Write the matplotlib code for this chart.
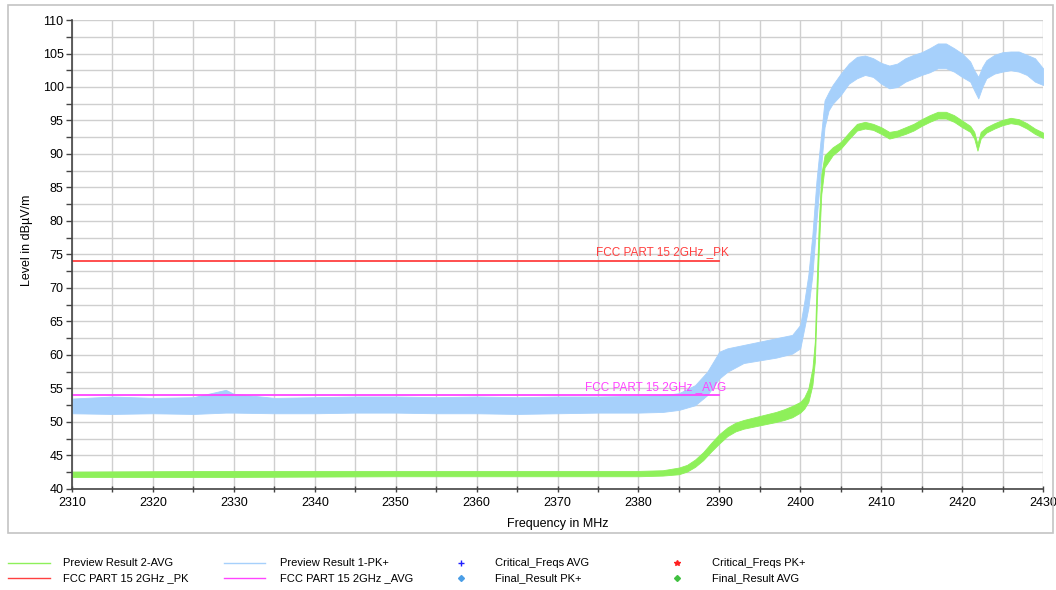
import matplotlib.pyplot as plt
from matplotlib.lines import Line2D
from matplotlib.patches import Rectangle

plt.rcParams['font.family'] = ['Liberation Sans', 'DejaVu Sans']

# Preview Result 1-PK+ (blue), envelope: freq, low, high
pk_freq = [2310, 2315, 2320, 2325, 2329, 2330, 2335, 2340, 2345, 2350, 2355, 2360,
           2365, 2370, 2375, 2380, 2383, 2385, 2387, 2388.5, 2390, 2391, 2393, 2395,
           2397, 2399, 2400, 2400.5, 2401, 2401.5, 2402, 2402.5, 2403, 2403.5, 2404,
           2405, 2406, 2407, 2408, 2409, 2410, 2411, 2412, 2413, 2414, 2415, 2416,
           2417, 2418, 2419, 2420, 2421, 2421.5, 2422, 2422.5, 2423, 2424, 2425,
           2426, 2427, 2428, 2429, 2430]
pk_lo = [51.3, 51.2, 51.3, 51.2, 51.4, 51.4, 51.3, 51.3, 51.4, 51.4, 51.3, 51.3,
         51.2, 51.3, 51.4, 51.4, 51.5, 51.8, 52.5, 54.0, 56.5, 57.5, 58.8, 59.2,
         59.6, 60.2, 61.0, 64.0, 67.0, 72.0, 80.0, 87.0, 94.0, 96.5, 97.5,
         98.8, 100.5, 101.3, 101.8, 101.5, 100.5, 99.8, 100.0, 100.8, 101.3, 101.8, 102.2,
         102.8, 102.8, 102.3, 101.5, 100.8, 99.5, 98.3, 100.0, 101.3, 102.0, 102.3,
         102.5, 102.3, 101.8, 100.8, 100.3]
pk_hi = [53.5, 53.8, 53.6, 53.7, 54.8, 54.2, 53.6, 53.7, 53.8, 53.8, 53.7, 53.8,
         53.7, 53.8, 53.8, 53.9, 54.0, 54.3, 55.5, 57.5, 60.5, 61.0, 61.5, 62.0,
         62.5, 63.0, 64.5, 68.0, 72.0, 78.0, 86.0, 92.0, 98.0, 99.2, 100.3,
         102.0, 103.5, 104.5, 104.7, 104.3, 103.6, 103.2, 103.5, 104.3, 104.8, 105.2, 105.8,
         106.5, 106.5, 105.8, 105.0, 103.8, 102.5, 101.5, 103.0, 104.0, 104.8, 105.2,
         105.3, 105.3, 104.8, 104.3, 102.8]

# Preview Result 2-AVG (green)
av_freq = [2310, 2330, 2350, 2370, 2380, 2383, 2385, 2386, 2387, 2388, 2389, 2390,
           2391, 2392, 2393, 2395, 2397, 2398, 2399, 2400, 2400.5, 2401, 2401.5,
           2401.8, 2402, 2402.3, 2402.6, 2403, 2404, 2405, 2406, 2407, 2408, 2409,
           2410, 2411, 2412, 2413, 2414, 2415, 2416, 2417, 2418, 2419, 2420, 2421,
           2421.5, 2421.9, 2422.3, 2423, 2424, 2425, 2426, 2427, 2428, 2429, 2430]
av_lo = [41.8, 41.8, 41.9, 41.9, 41.9, 42.0, 42.2, 42.6, 43.3, 44.3, 45.6, 46.8,
         47.9, 48.6, 49.0, 49.5, 50.0, 50.3, 50.7, 51.4, 52.0, 53.0, 55.5,
         59.0, 66.0, 76.0, 84.0, 88.0, 89.8, 90.8, 92.2, 93.5, 93.8, 93.6,
         93.0, 92.3, 92.6, 93.0, 93.5, 94.2, 94.8, 95.3, 95.3, 94.8, 94.0, 93.3,
         92.3, 90.5, 92.3, 93.2, 93.8, 94.3, 94.6, 94.4, 93.8, 93.0, 92.4]
av_hi = [42.6, 42.7, 42.7, 42.7, 42.7, 42.8, 43.2, 43.6, 44.4, 45.5, 46.9, 48.2,
         49.2, 49.9, 50.3, 50.9, 51.5, 51.9, 52.4, 53.0, 53.7, 55.0, 58.0,
         62.0, 70.0, 80.0, 87.0, 89.8, 91.0, 91.8, 93.2, 94.5, 94.8, 94.5,
         94.0, 93.3, 93.5, 94.0, 94.5, 95.2, 95.8, 96.3, 96.3, 95.8, 95.0, 94.2,
         93.3, 91.5, 93.3, 94.0, 94.6, 95.1, 95.4, 95.2, 94.6, 93.8, 93.2]

# limit lines
lim_freq = [2310, 2390]
lim_pk = [74, 74]
lim_av = [54, 54]

blue = '#a6d0fb'
green = '#8ef05a'
red = '#ff4040'
magenta = '#ff44ff'

fig = plt.figure(figsize=(10.56, 5.9), dpi=100)
ax = fig.add_axes([0.0682, 0.1712, 0.9195, 0.7949])

# frame around chart
fig.add_artist(Rectangle((0.0076, 0.0966), 0.99, 0.895, transform=fig.transFigure,
                         fill=False, edgecolor='#c4c4c4', linewidth=1.2))

ax.fill_between(pk_freq, pk_lo, pk_hi, color=blue, linewidth=0.6, edgecolor=blue)
ax.fill_between(av_freq, av_lo, av_hi, color=green, linewidth=0.6, edgecolor=green)
ax.plot(lim_freq, lim_pk, color=red, lw=1.3)
ax.plot(lim_freq, lim_av, color=magenta, lw=1.3)
ax.text(2374.8, 74.4, 'FCC PART 15 2GHz _PK', color=red, fontsize=8.5, va='bottom')
ax.text(2373.4, 54.3, 'FCC PART 15 2GHz _AVG', color=magenta, fontsize=8.5, va='bottom')

ax.set_xlim(2310, 2430)
ax.set_ylim(40, 110)
ax.set_xticks(range(2310, 2431, 10))
ax.set_xticks(range(2315, 2430, 10), minor=True)
ax.set_yticks(range(40, 111, 5))
ax.set_yticks([40 + 2.5 * i for i in range(1, 28, 2)], minor=True)
ax.grid(True, which='both', color='#cfcfcf', linewidth=1)
ax.set_axisbelow(True)
for s in ['top', 'right']:
    ax.spines[s].set_visible(False)
for s in ['left', 'bottom']:
    ax.spines[s].set_color('#444444')
    ax.spines[s].set_linewidth(1.2)
ax.tick_params(axis='both', which='both', labelsize=9, length=4, width=1, color='#444444', pad=2)
ax.tick_params(axis='x', which='both', direction='inout', pad=4)
ax.set_xlabel('Frequency in MHz', fontsize=9, labelpad=6)
ax.set_ylabel('Level in dBµV/m', fontsize=9)
ax.yaxis.set_label_coords(-0.040, 0.53)

# legend at bottom
leg_lines = [('Preview Result 2-AVG', green, 8, 50, 63, 563),
             ('FCC PART 15 2GHz _PK', red, 8, 50, 63, 578),
             ('Preview Result 1-PK+', blue, 224, 265, 280, 563),
             ('FCC PART 15 2GHz _AVG', magenta, 224, 265, 280, 578)]
for label, col, x0, x1, tx, y in leg_lines:
    fig.add_artist(Line2D([x0 / 1056, x1 / 1056], [1 - y / 590, 1 - y / 590],
                          transform=fig.transFigure, color=col, lw=1))
    fig.text(tx / 1056, 1 - y / 590, label, fontsize=8, va='center')

leg_marks = [('Critical_Freqs AVG', '#2020ff', '+', 461, 495, 563),
             ('Final_Result PK+', '#4a9ee6', 'D', 461, 495, 578),
             ('Critical_Freqs PK+', '#ff2020', '*', 677, 712, 563),
             ('Final_Result AVG', '#40c040', 'D', 677, 712, 578)]
for label, col, m, mx, tx, y in leg_marks:
    fig.add_artist(Line2D([mx / 1056], [1 - y / 590], transform=fig.transFigure,
                          marker=m, color=col, markersize=4 if m != 'D' else 3, lw=0))
    fig.text(tx / 1056, 1 - y / 590, label, fontsize=8, va='center')

fig.savefig('out.png', dpi=100)
